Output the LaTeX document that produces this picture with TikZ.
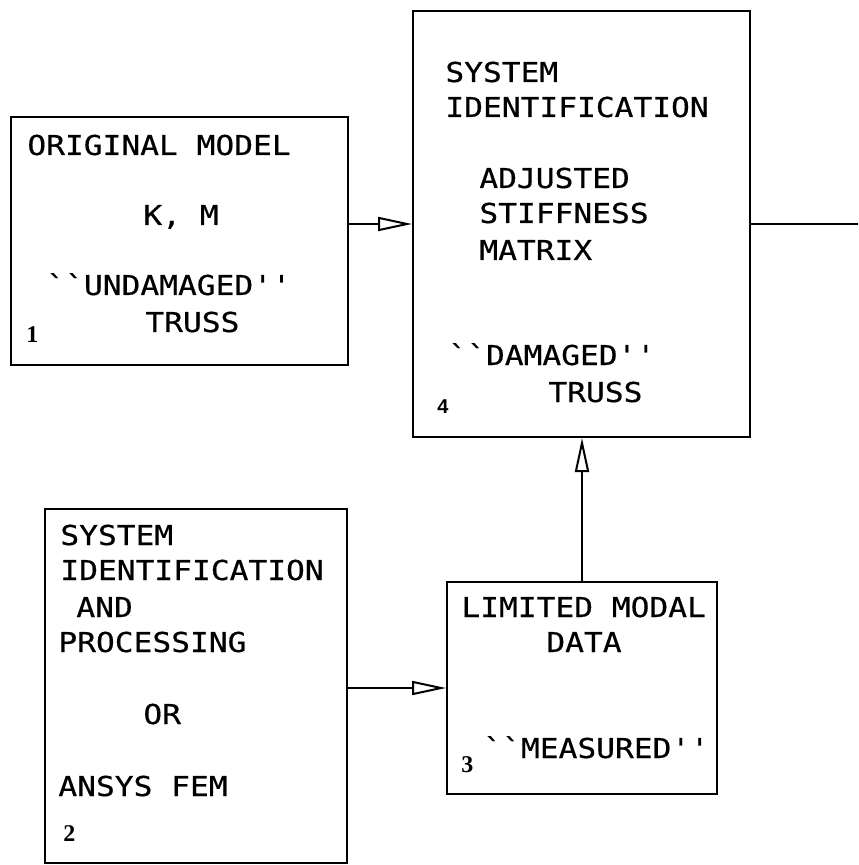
\documentclass[tikz,border=0pt]{standalone}
\usepackage{fontspec}
\newfontfamily\plotfont[FakeStretch=1.14,FakeBold=0.5]{DejaVu Sans Mono}
\newfontfamily\numfont{Liberation Serif}
\newfontfamily\numsans{Liberation Sans}
\usetikzlibrary{arrows.meta}
\tikzset{
  blk/.style={draw,line width=1pt,inner sep=0pt},
  txt/.style={anchor=base west,inner sep=0pt,font=\plotfont\fontsize{13.7pt}{16pt}\selectfont},
  num/.style={anchor=base west,inner sep=0pt,font=\numfont\bfseries\fontsize{12pt}{14pt}\selectfont},
  arr/.style={line width=1pt,-{Triangle[open,length=17pt,width=7pt]}}
}
\begin{document}
\begin{tikzpicture}[x=0.5pt,y=-0.5pt]
\useasboundingbox (0,0) rectangle (858,865);
\node[blk,minimum width=168.5pt,minimum height=124pt] (orig) at (179.5,241) {};
\node[txt] (o1) at (27,155) {ORIGINAL MODEL};
\node[txt] (o2) at (143,225) {K, M};
\node[txt] (o3) at (46,295) {``UNDAMAGED''};
\node[txt] (o4) at (145,332) {TRUSS};
\node[num] (n1) at (26,343) {1};

\node[blk,minimum width=168.5pt,minimum height=213pt] (sysid) at (581.5,224) {};
\node[txt] (s1) at (445,82) {SYSTEM};
\node[txt] (s2) at (445,117) {IDENTIFICATION};
\node[txt] (s3) at (479,188) {ADJUSTED};
\node[txt] (s4) at (479,223) {STIFFNESS};
\node[txt] (s5) at (479,260) {MATRIX};
\node[txt] (s6) at (448,365) {``DAMAGED''};
\node[txt] (s7) at (548,402) {TRUSS};
\node[num,font=\numsans\bfseries\fontsize{10pt}{12pt}\selectfont] (n4) at (437,413) {4};

\node[blk,minimum width=151pt,minimum height=177pt] (proc) at (196,686) {};
\node[txt] (p1) at (60,545) {SYSTEM};
\node[txt] (p2) at (60,580) {IDENTIFICATION};
\node[txt] (p3) at (76,617) {AND};
\node[txt] (p4) at (58,652) {PROCESSING};
\node[txt] (p5) at (143,724) {OR};
\node[txt] (p6) at (58,796) {ANSYS FEM};
\node[num] (n2) at (63,841) {2};

\node[blk,minimum width=135pt,minimum height=106pt] (modal) at (582,688) {};
\node[txt] (m1) at (461,617) {LIMITED MODAL};
\node[txt] (m2) at (546,652) {DATA};
\node[txt] (m3) at (483,758) {``MEASURED''};
\node[num] (n3) at (461,772) {3};

\coordinate (out) at (858,224);
\draw[arr] (orig.east |- sysid.west) -- (sysid.west);
\draw[arr] (proc.east |- modal.west) -- (modal.west);
\draw[arr] (modal.north) -- (modal.north |- sysid.south);
\draw[line width=1pt] (sysid.east) -- (out);
\end{tikzpicture}
\end{document}
